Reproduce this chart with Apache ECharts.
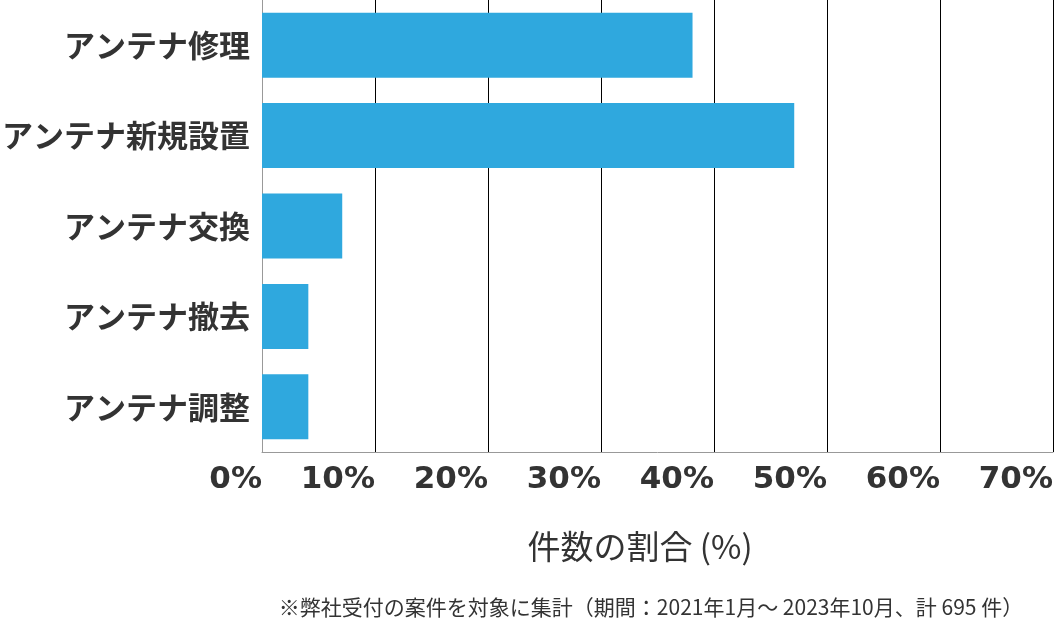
<!DOCTYPE html>
<html><head><meta charset="utf-8">
<script src="https://cdn.jsdelivr.net/npm/echarts@6/dist/echarts.min.js"></script>
<style>html,body{margin:0;padding:0;background:#fff}#c{width:1054px;height:629px}</style>
</head><body><div id="c"></div>
<script>
const categories = ['アンテナ修理','アンテナ新規設置','アンテナ交換','アンテナ撤去','アンテナ調整'];
const values = [38.1, 47.1, 7.1, 4.1, 4.1];
const xTicks = [0,10,20,30,40,50,60,70];
const axisTitle = '件数の割合 (%)';
const footnote = '※弊社受付の案件を対象に集計（期間：2021年1月～ 2023年10月、計 695 件）';
const font = '"Noto Sans CJK JP","Noto Sans",sans-serif';
const chart = echarts.init(document.getElementById('c'));
chart.setOption({
  animation:false,
  grid:{left:262,right:1,top:0,bottom:177,containLabel:false,outerBoundsMode:'none'},
  xAxis:{type:'value',min:0,max:70,interval:10,
    axisLine:{show:true,lineStyle:{color:'#999',width:1}},
    axisTick:{show:false},
    splitLine:{show:true,lineStyle:{color:'#000',width:1}},
    axisLabel:{formatter:v=>v+'%',color:'#333',fontSize:31,fontWeight:'bold',fontFamily:'"DejaVu Sans",sans-serif',margin:12,align:'right'}},
  yAxis:{type:'category',data:categories,inverse:true,
    axisLine:{show:true,lineStyle:{color:'#999'}},axisTick:{show:false},
    axisLabel:{color:'#333',fontSize:31,fontWeight:'bold',fontFamily:font,margin:12}},
  series:[{type:'bar',data:values,barWidth:65,itemStyle:{color:'#2fa8de'}}],
  graphic:[
    {type:'text',x:640,y:530,style:{text:axisTitle,fill:'#333',font:'33px '+font,align:'center'}},
    {type:'text',x:651,y:597,style:{text:footnote,fill:'#333',font:'21px '+font,align:'center'}}
  ]
});
</script></body></html>
